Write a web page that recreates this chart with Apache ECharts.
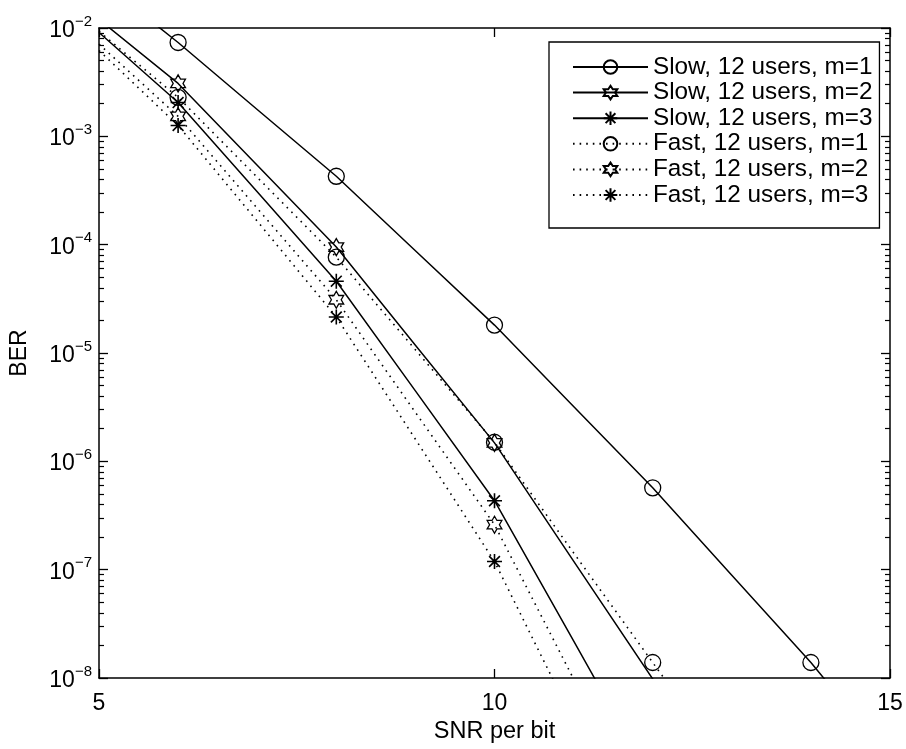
<!DOCTYPE html>
<html>
<head>
<meta charset="utf-8">
<title>BER vs SNR per bit</title>
<script src="https://cdn.jsdelivr.net/npm/echarts@6/dist/echarts.min.js"></script>
<style>
  html, body { margin: 0; padding: 0; background: #fff; }
  #chart { width: 906px; height: 749px; }
</style>
</head>
<body>
<div id="chart"></div>
<script>
// SNR per bit (x) and the BER curves of each configuration
const snr = [5, 6, 7, 8, 9, 10, 11, 12, 13, 14, 15];
const markerSnr = [6, 8, 10, 12, 14];

const slowM1 = [2.8e-2, 7.35e-3, 1.77e-3, 4.28e-4, 8.8e-5, 1.81e-5, 3.21e-6, 5.7e-7, 8.9e-8, 1.39e-8, 1.8e-9];
const slowM2 = [1.2e-2, 3.08e-3, 5.4e-4, 9.5e-5, 1.18e-5, 1.48e-6, 1.2e-7, 9.8e-9, 6.0e-10];
const slowM3 = [9.1e-3, 2.05e-3, 3.08e-4, 4.6e-5, 4.47e-6, 4.33e-7, 2.2e-8, 1.1e-9];
const fastM1 = [9.3e-3, 2.29e-3, 4.19e-4, 7.67e-5, 1.07e-5, 1.5e-6, 1.43e-7, 1.39e-8, 1.35e-9];
const fastM2 = [7.1e-3, 1.53e-3, 2.17e-4, 3.1e-5, 2.83e-6, 2.6e-7, 9.8e-9, 3.7e-10];
const fastM3 = [6.2e-3, 1.26e-3, 1.65e-4, 2.15e-5, 1.6e-6, 1.19e-7, 4.0e-9];

const seriesNames = [
  'Slow, 12 users, m=1',
  'Slow, 12 users, m=2',
  'Slow, 12 users, m=3',
  'Fast, 12 users, m=1',
  'Fast, 12 users, m=2',
  'Fast, 12 users, m=3'
];

const xTicks = [5, 10, 15];
const yMin = 1e-8, yMax = 1e-2;

const FONT = '"Liberation Sans", Arial, Helvetica, sans-serif';

// Marker shapes: open circle, six-pointed star, asterisk
const HEXAGRAM = 'path://M0,-1L0.2887,-0.5L0.866,-0.5L0.5774,0L0.866,0.5L0.2887,0.5L0,1L-0.2887,0.5L-0.866,0.5L-0.5774,0L-0.866,-0.5L-0.2887,-0.5Z';
const ASTERISK = 'path://M0,-1L0,1M-1,0L1,0M-0.72,-0.72L0.72,0.72M-0.72,0.72L0.72,-0.72';

const markerStyles = [
  { symbol: 'circle', symbolSize: 16, itemStyle: { color: 'rgba(255,255,255,0)', borderColor: '#000', borderWidth: 1.3 } },
  { symbol: HEXAGRAM, symbolSize: 17, itemStyle: { color: 'rgba(255,255,255,0)', borderColor: '#000', borderWidth: 1.3 } },
  { symbol: ASTERISK, symbolSize: 15, itemStyle: { color: '#000', borderColor: '#000', borderWidth: 1.6 } }
];

// Minor log ticks (2..9 within each decade)
const minorTicks = [];
for (let e = -8; e < -2; e++) {
  for (let m = 2; m <= 9; m++) minorTicks.push(+(m * Math.pow(10, e)).toPrecision(3));
}
const majorTicks = [];
for (let e = -8; e <= -2; e++) majorTicks.push(Math.pow(10, e));

function toData(values) {
  return values.map((v, i) => {
    const x = snr[i];
    const item = { value: [x, v] };
    if (markerSnr.indexOf(x) < 0) item.symbol = 'none';
    return item;
  });
}

function makeSeries(name, values, markerIdx, dotted) {
  const m = markerStyles[markerIdx];
  return {
    name: name,
    type: 'line',
    data: toData(values),
    xAxisIndex: 0,
    yAxisIndex: 0,
    symbol: m.symbol,
    symbolSize: m.symbolSize,
    symbolKeepAspect: true,
    showAllSymbol: true,
    clip: true,
    itemStyle: m.itemStyle,
    lineStyle: dotted
      ? { color: '#000', width: 1.6, type: [1.6, 5], cap: 'butt' }
      : { color: '#000', width: 1.5, type: 'solid' },
    emphasis: { disabled: true },
    z: dotted ? 2 : 3
  };
}

function supLabel(value) {
  const e = Math.round(Math.log10(value));
  return '{b|10}{e|\u2212' + Math.abs(e) + '}';
}

const chart = echarts.init(document.getElementById('chart'), null, { renderer: 'canvas' });

const axisLine = { show: true, lineStyle: { color: '#000', width: 1.5 } };

chart.setOption({
  backgroundColor: '#fff',
  animation: false,
  textStyle: { fontFamily: FONT, color: '#000' },
  grid: { left: 99, top: 28, width: 791, height: 652, containLabel: false },
  legend: {
    data: seriesNames,
    orient: 'vertical',
    left: 549,
    top: 42,
    padding: [13, 7, 21, 23],
    itemWidth: 75,
    itemHeight: 17,
    itemGap: 1.6,
    backgroundColor: '#fff',
    borderColor: '#000',
    borderWidth: 1.3,
    borderRadius: 0,
    selectedMode: false,
    textStyle: { fontFamily: FONT, fontSize: 24.3, lineHeight: 24, color: '#000' }
  },
  xAxis: [
    {
      type: 'value',
      position: 'bottom',
      min: 5,
      max: 15,
      interval: 5,
      name: 'SNR per bit',
      nameLocation: 'middle',
      nameGap: 42,
      nameTextStyle: { fontFamily: FONT, fontSize: 23.5, color: '#000' },
      axisLine: axisLine,
      axisTick: { show: true, inside: true, length: 9, lineStyle: { color: '#000', width: 1.3 } },
      axisLabel: { show: true, margin: 14, fontFamily: FONT, fontSize: 23, color: '#000',
        customValues: xTicks },
      splitLine: { show: false }
    },
    {
      type: 'value',
      position: 'top',
      min: 5,
      max: 15,
      interval: 5,
      axisLine: axisLine,
      axisTick: { show: true, inside: true, length: 9, lineStyle: { color: '#000', width: 1.3 } },
      axisLabel: { show: false },
      splitLine: { show: false }
    }
  ],
  yAxis: [
    {
      type: 'log',
      logBase: 10,
      position: 'left',
      min: yMin,
      max: yMax,
      name: 'BER',
      nameLocation: 'middle',
      nameGap: 68,
      nameRotate: 90,
      nameTextStyle: { fontFamily: FONT, fontSize: 23, color: '#000' },
      axisLine: axisLine,
      axisTick: { show: true, inside: true, length: 9, customValues: majorTicks, lineStyle: { color: '#000', width: 1.3 } },
      axisLabel: {
        show: true,
        margin: 7,
        customValues: majorTicks,
        formatter: supLabel,
        rich: {
          b: { fontFamily: FONT, fontSize: 23, color: '#000', padding: [5, 0, 0, 0] },
          e: { fontFamily: FONT, fontSize: 15, color: '#000', verticalAlign: 'top' }
        }
      },
      splitLine: { show: false }
    },
    {
      type: 'log',
      logBase: 10,
      position: 'left',
      min: yMin,
      max: yMax,
      axisLine: { show: false },
      axisTick: { show: true, inside: true, length: 5, customValues: minorTicks, lineStyle: { color: '#000', width: 1.2 } },
      axisLabel: { show: false },
      splitLine: { show: false }
    },
    {
      type: 'log',
      logBase: 10,
      position: 'right',
      min: yMin,
      max: yMax,
      axisLine: axisLine,
      axisTick: { show: true, inside: true, length: 9, customValues: majorTicks, lineStyle: { color: '#000', width: 1.3 } },
      axisLabel: { show: false },
      splitLine: { show: false }
    },
    {
      type: 'log',
      logBase: 10,
      position: 'right',
      min: yMin,
      max: yMax,
      axisLine: { show: false },
      axisTick: { show: true, inside: true, length: 5, customValues: minorTicks, lineStyle: { color: '#000', width: 1.2 } },
      axisLabel: { show: false },
      splitLine: { show: false }
    }
  ],
  series: [
    makeSeries(seriesNames[0], slowM1, 0, false),
    makeSeries(seriesNames[1], slowM2, 1, false),
    makeSeries(seriesNames[2], slowM3, 2, false),
    makeSeries(seriesNames[3], fastM1, 0, true),
    makeSeries(seriesNames[4], fastM2, 1, true),
    makeSeries(seriesNames[5], fastM3, 2, true)
  ]
});
</script>
</body>
</html>
